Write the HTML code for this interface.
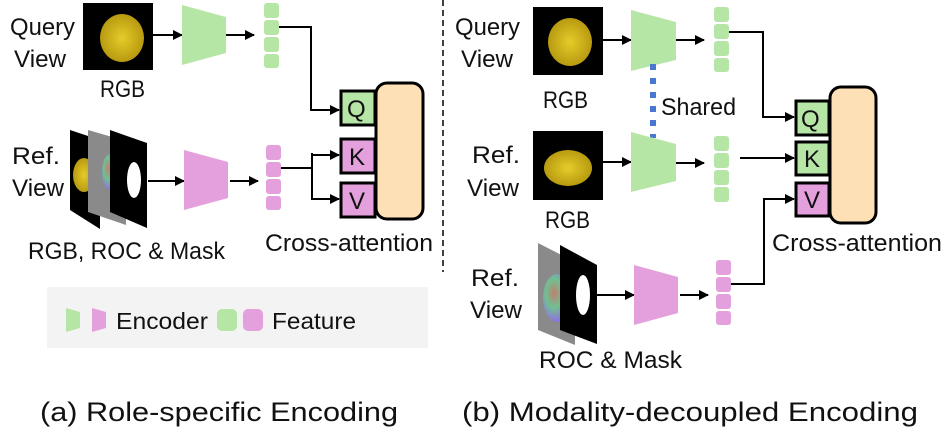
<!DOCTYPE html>
<html><head><meta charset="utf-8"><style>
html,body{margin:0;padding:0;background:#fff}
svg{display:block}
text{font-family:"Liberation Sans",sans-serif;fill:#111}
</style></head><body>
<svg width="946" height="436" viewBox="0 0 946 436" xmlns="http://www.w3.org/2000/svg">
<defs>
<marker id="ah" markerWidth="10" markerHeight="10" refX="9" refY="5" orient="auto" markerUnits="userSpaceOnUse">
<path d="M0,0 L10,5 L0,10 z" fill="#000"/></marker>
<radialGradient id="duck" cx="50%" cy="50%" r="50%"><stop offset="0" stop-color="#e6cc2a"/><stop offset="1" stop-color="#b89a10"/></radialGradient>
<radialGradient id="roc" cx="40%" cy="40%" r="60%"><stop offset="0" stop-color="#c08070"/><stop offset="0.5" stop-color="#70c090"/><stop offset="1" stop-color="#9070e0"/></radialGradient>
</defs>

<!-- LEFT PANEL -->
<text x="10" y="35" font-size="24" textLength="65" lengthAdjust="spacingAndGlyphs">Query</text>
<text x="14" y="67" font-size="24" textLength="52" lengthAdjust="spacingAndGlyphs">View</text>
<rect x="83" y="3" width="70" height="67" fill="#000"/>
<ellipse cx="122" cy="38" rx="22" ry="24" fill="url(#duck)"/>
<text x="100" y="97" font-size="24" textLength="45" lengthAdjust="spacingAndGlyphs">RGB</text>
<line x1="153" y1="35" x2="182" y2="35" stroke="#000" stroke-width="2" marker-end="url(#ah)"/>
<polygon points="182,5 226,17 226,53 182,65" fill="#b6e6a6"/>
<line x1="226" y1="35" x2="254" y2="35" stroke="#000" stroke-width="2" marker-end="url(#ah)"/>
<g fill="#b6e6a6"><rect x="264" y="3" width="15" height="15" rx="3"/><rect x="264" y="20" width="15" height="15" rx="3"/><rect x="264" y="37" width="15" height="15" rx="3"/><rect x="264" y="54" width="15" height="14" rx="3"/></g>
<polyline points="279,27 311,27 311,110 339,110" fill="none" stroke="#000" stroke-width="2" marker-end="url(#ah)"/>

<rect x="376" y="83" width="47" height="136" rx="11" fill="#fde0b6" stroke="#000" stroke-width="3"/>
<rect x="341" y="91" width="34" height="34" fill="#b6e6a6" stroke="#000" stroke-width="3"/>
<text x="347" y="117" font-size="24">Q</text>
<rect x="341" y="139" width="34" height="34" fill="#e4a0dc" stroke="#000" stroke-width="3"/>
<text x="349" y="165" font-size="24">K</text>
<rect x="341" y="183" width="34" height="34" fill="#e4a0dc" stroke="#000" stroke-width="3"/>
<text x="349" y="209" font-size="24">V</text>

<text x="12" y="164" font-size="24" textLength="48" lengthAdjust="spacingAndGlyphs">Ref.</text>
<text x="12" y="196" font-size="24" textLength="52" lengthAdjust="spacingAndGlyphs">View</text>
<polygon points="70,130 100,140 100,229 70,210" fill="#000"/>
<ellipse cx="84" cy="175" rx="11" ry="17" fill="url(#duck)"/>
<polygon points="88,130 126,141 126,225 88,212" fill="#8a8a8a"/>
<ellipse cx="110" cy="172" rx="8" ry="18" fill="url(#roc)"/>
<polygon points="110,130 147,143 147,228 110,212" fill="#000"/>
<ellipse cx="134" cy="180" rx="7" ry="18" fill="#fff"/>
<text x="28" y="259" font-size="24" textLength="197" lengthAdjust="spacingAndGlyphs">RGB, ROC &amp; Mask</text>
<line x1="148" y1="181" x2="184" y2="181" stroke="#000" stroke-width="2" marker-end="url(#ah)"/>
<polygon points="184,150 228,162 228,198 184,210" fill="#e4a0dc"/>
<line x1="230" y1="181" x2="258" y2="181" stroke="#000" stroke-width="2" marker-end="url(#ah)"/>
<g fill="#e4a0dc"><rect x="266" y="145" width="15" height="15" rx="3"/><rect x="266" y="162" width="15" height="15" rx="3"/><rect x="266" y="179" width="15" height="15" rx="3"/><rect x="266" y="196" width="15" height="14" rx="3"/></g>
<polyline points="281,168 312,168" fill="none" stroke="#000" stroke-width="2"/>
<polyline points="312,153 312,200" fill="none" stroke="#000" stroke-width="2"/>
<line x1="311" y1="155" x2="339" y2="155" stroke="#000" stroke-width="2" marker-end="url(#ah)"/>
<line x1="311" y1="199" x2="339" y2="199" stroke="#000" stroke-width="2" marker-end="url(#ah)"/>
<text x="265" y="251" font-size="24" textLength="168" lengthAdjust="spacingAndGlyphs">Cross-attention</text>

<line x1="443" y1="0" x2="443" y2="272" stroke="#000" stroke-width="1.5" stroke-dasharray="6,4"/>

<!-- legend -->
<rect x="47" y="287" width="381" height="61" fill="#f3f3f3"/>
<polygon points="66,308 80,312 80,328 66,332" fill="#b6e6a6"/>
<polygon points="92,308 106,312 106,328 92,332" fill="#e4a0dc"/>
<text x="116" y="329" font-size="23" textLength="92" lengthAdjust="spacingAndGlyphs">Encoder</text>
<rect x="217" y="309" width="20" height="22" rx="5" fill="#b6e6a6"/>
<rect x="243" y="309" width="20" height="22" rx="5" fill="#e4a0dc"/>
<text x="272" y="329" font-size="23" textLength="84" lengthAdjust="spacingAndGlyphs">Feature</text>

<!-- RIGHT PANEL -->
<text x="455" y="35" font-size="24" textLength="65" lengthAdjust="spacingAndGlyphs">Query</text>
<text x="461" y="67" font-size="24" textLength="52" lengthAdjust="spacingAndGlyphs">View</text>
<rect x="533" y="7" width="70" height="68" fill="#000"/>
<ellipse cx="570" cy="42" rx="22" ry="24" fill="url(#duck)"/>
<text x="543" y="108" font-size="24" textLength="45" lengthAdjust="spacingAndGlyphs">RGB</text>
<line x1="603" y1="40" x2="631" y2="40" stroke="#000" stroke-width="2" marker-end="url(#ah)"/>
<polygon points="631,10 676,22 676,60 631,71" fill="#b6e6a6"/>
<line x1="676" y1="40" x2="704" y2="40" stroke="#000" stroke-width="2" marker-end="url(#ah)"/>
<g fill="#b6e6a6"><rect x="714" y="7" width="15" height="15" rx="3"/><rect x="714" y="24" width="15" height="15" rx="3"/><rect x="714" y="41" width="15" height="15" rx="3"/><rect x="714" y="58" width="15" height="14" rx="3"/></g>
<polyline points="729,32 763,32 763,117 794,117" fill="none" stroke="#000" stroke-width="2" marker-end="url(#ah)"/>
<line x1="653" y1="64" x2="653" y2="138" stroke="#4a78d0" stroke-width="6" stroke-dasharray="6,8"/>
<text x="661" y="115" font-size="24" textLength="75" lengthAdjust="spacingAndGlyphs">Shared</text>

<text x="472" y="163" font-size="24" textLength="48" lengthAdjust="spacingAndGlyphs">Ref.</text>
<text x="467" y="196" font-size="24" textLength="52" lengthAdjust="spacingAndGlyphs">View</text>
<rect x="533" y="131" width="70" height="69" fill="#000"/>
<ellipse cx="568" cy="168" rx="24" ry="18" fill="url(#duck)"/>
<text x="545" y="228" font-size="24" textLength="45" lengthAdjust="spacingAndGlyphs">RGB</text>
<line x1="603" y1="162" x2="631" y2="162" stroke="#000" stroke-width="2" marker-end="url(#ah)"/>
<polygon points="631,132 676,144 676,181 631,192" fill="#b6e6a6"/>
<line x1="676" y1="163" x2="704" y2="163" stroke="#000" stroke-width="2" marker-end="url(#ah)"/>
<g fill="#b6e6a6"><rect x="714" y="136" width="15" height="15" rx="3"/><rect x="714" y="153" width="15" height="15" rx="3"/><rect x="714" y="170" width="15" height="15" rx="3"/><rect x="714" y="187" width="15" height="15" rx="3"/></g>
<line x1="740" y1="158" x2="794" y2="158" stroke="#000" stroke-width="2" marker-end="url(#ah)"/>

<rect x="830" y="87" width="46" height="136" rx="11" fill="#fde0b6" stroke="#000" stroke-width="3"/>
<rect x="796" y="101" width="33" height="34" fill="#b6e6a6" stroke="#000" stroke-width="3"/>
<text x="801" y="127" font-size="24">Q</text>
<rect x="796" y="142" width="33" height="33" fill="#b6e6a6" stroke="#000" stroke-width="3"/>
<text x="804" y="167" font-size="24">K</text>
<rect x="796" y="183" width="33" height="33" fill="#e4a0dc" stroke="#000" stroke-width="3"/>
<text x="804" y="208" font-size="24">V</text>
<text x="772" y="251" font-size="24" textLength="170" lengthAdjust="spacingAndGlyphs">Cross-attention</text>

<text x="471" y="286" font-size="24" textLength="48" lengthAdjust="spacingAndGlyphs">Ref.</text>
<text x="470" y="318" font-size="24" textLength="52" lengthAdjust="spacingAndGlyphs">View</text>
<polygon points="538,243 575,262 575,345 538,330" fill="#8a8a8a"/>
<ellipse cx="557" cy="298" rx="14" ry="24" fill="url(#roc)"/>
<polygon points="560,245 597,265 597,344 560,330" fill="#000"/>
<ellipse cx="583" cy="295" rx="7" ry="20" fill="#fff"/>
<text x="539" y="368" font-size="24" textLength="143" lengthAdjust="spacingAndGlyphs">ROC &amp; Mask</text>
<line x1="597" y1="295" x2="634" y2="295" stroke="#000" stroke-width="2" marker-end="url(#ah)"/>
<polygon points="634,265 678,277 678,313 634,325" fill="#e4a0dc"/>
<line x1="680" y1="295" x2="708" y2="295" stroke="#000" stroke-width="2" marker-end="url(#ah)"/>
<g fill="#e4a0dc"><rect x="716" y="260" width="15" height="15" rx="3"/><rect x="716" y="277" width="15" height="15" rx="3"/><rect x="716" y="294" width="15" height="15" rx="3"/><rect x="716" y="311" width="15" height="14" rx="3"/></g>
<polyline points="731,284 764,284 764,199 794,199" fill="none" stroke="#000" stroke-width="2" marker-end="url(#ah)"/>

<!-- captions -->
<text x="40" y="421" font-size="27" textLength="358" lengthAdjust="spacingAndGlyphs">(a) Role-specific Encoding</text>
<text x="462" y="421" font-size="27" textLength="456" lengthAdjust="spacingAndGlyphs">(b) Modality-decoupled Encoding</text>
</svg>
</body></html>
